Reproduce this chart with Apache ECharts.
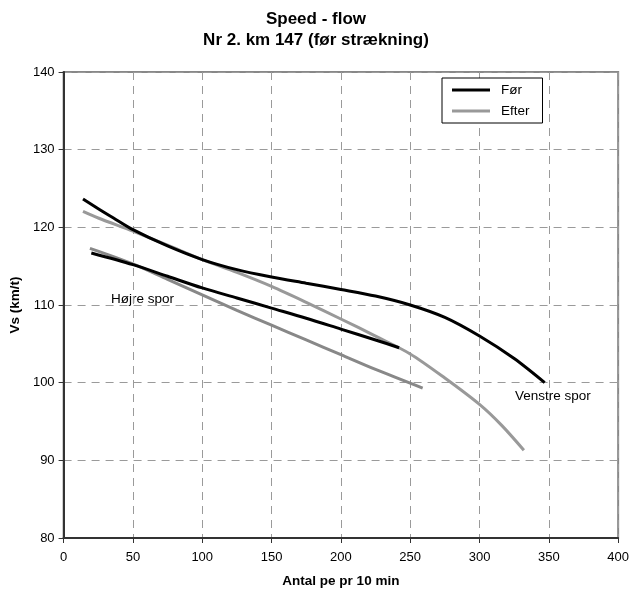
<!DOCTYPE html>
<html><head><meta charset="utf-8">
<script src="https://cdn.jsdelivr.net/npm/echarts@6/dist/echarts.min.js"></script>
<style>html,body{margin:0;padding:0;background:#fff}#c{width:632px;height:593px}</style>
</head><body><div id="c"></div>
<script>
var xTicks = [0, 50, 100, 150, 200, 250, 300, 350, 400];
var yTicks = [80, 90, 100, 110, 120, 130, 140];
// Venstre spor
var venstreForX = [14, 25, 36, 50, 75, 100, 125, 150, 175, 200, 225, 250, 275, 300, 325, 347];
var venstreForY = [123.65, 122.4, 121.2, 119.7, 117.6, 115.85, 114.55, 113.6, 112.8, 112.0, 111.15, 110.0, 108.4, 106.0, 103.1, 100.0];
var venstreEfterX = [14, 25, 50, 75, 100, 125, 150, 175, 200, 225, 250, 275, 300, 316, 332];
var venstreEfterY = [122.06, 121.2, 119.5, 117.7, 115.85, 114.2, 112.4, 110.35, 108.2, 106.0, 103.7, 100.6, 97.2, 94.5, 91.3];
// Højre spor
var hojreForX = [20, 50, 75, 100, 125, 150, 175, 200, 225, 242];
var hojreForY = [116.7, 115.2, 113.7, 112.2, 110.9, 109.6, 108.3, 106.9, 105.5, 104.5];
var hojreEfterX = [19, 50, 75, 100, 125, 150, 175, 200, 225, 259];
var hojreEfterY = [117.3, 115.3, 113.3, 111.3, 109.3, 107.4, 105.5, 103.6, 101.7, 99.3];

function pairs(xs, ys) { return xs.map(function (x, i) { return [x, ys[i]]; }); }

var FONT = '"Liberation Sans", Arial, sans-serif';
var chart = echarts.init(document.getElementById('c'), null, {renderer: 'canvas'});
var dashed = {show: true, lineStyle: {color: '#9a9a9a', type: [8, 6], width: 1}};
function lineSeries(name, xs, ys, color, z) {
  return {name: name, type: 'line', smooth: 0.3, symbol: 'none',
    data: pairs(xs, ys), lineStyle: {color: color, width: 3}, itemStyle: {color: color}, z: z};
}
chart.setOption({
  animation: false,
  backgroundColor: '#fff',
  title: {
    text: 'Speed - flow\nNr 2. km 147 (før strækning)',
    left: 'center', top: 9, padding: 0,
    textStyle: {fontFamily: FONT, fontSize: 17, fontWeight: 'bold', color: '#000', lineHeight: 21}
  },
  legend: {
    orient: 'vertical', left: 442, top: 78,
    data: [{name: 'Før', itemStyle: {color: '#000'}}, {name: 'Efter', itemStyle: {color: '#999'}}],
    itemWidth: 38, itemHeight: 3, itemGap: 5,
    padding: [4, 13, 4, 10],
    borderColor: '#000', borderWidth: 1, backgroundColor: '#fff',
    textStyle: {fontFamily: FONT, fontSize: 13.5, color: '#000', lineHeight: 16, padding: [0, 0, 0, 6]},
    icon: 'rect'
  },
  grid: {left: 63, right: 12, top: 72, bottom: 54, show: true, borderColor: '#888', borderWidth: 2},
  xAxis: {
    type: 'value', min: 0, max: 400, interval: 50,
    name: 'Antal pe pr 10 min', nameLocation: 'middle', nameGap: 36,
    nameTextStyle: {fontFamily: FONT, fontSize: 13.5, fontWeight: 'bold', color: '#000'},
    axisLine: {show: true, lineStyle: {color: '#333', width: 2}},
    axisTick: {show: true, length: 5, lineStyle: {color: '#333'}},
    axisLabel: {fontFamily: FONT, fontSize: 13, color: '#000', margin: 13},
    splitLine: dashed
  },
  yAxis: {
    type: 'value', min: 80, max: 140, interval: 10,
    name: 'Vs (km/t)', nameLocation: 'middle', nameGap: 38, nameRotate: 90,
    nameTextStyle: {fontFamily: FONT, fontSize: 13.5, fontWeight: 'bold', color: '#000'},
    axisLine: {show: true, lineStyle: {color: '#333', width: 2}},
    axisTick: {show: true, length: 5, lineStyle: {color: '#333'}},
    axisLabel: {fontFamily: FONT, fontSize: 13, color: '#000', margin: 9},
    splitLine: dashed
  },
  series: [
    lineSeries('Før', venstreForX, venstreForY, '#000', 3),
    lineSeries('Efter', venstreEfterX, venstreEfterY, '#999', 2),
    lineSeries('Før', hojreForX, hojreForY, '#000', 3),
    lineSeries('Efter', hojreEfterX, hojreEfterY, '#888', 2)
  ],
  graphic: [
    {type: 'text', left: 111, top: 292, style: {text: 'Højre spor', font: '13.5px ' + FONT, fill: '#000'}},
    {type: 'text', left: 515, top: 389, style: {text: 'Venstre spor', font: '13.5px ' + FONT, fill: '#000'}}
  ]
});
</script></body></html>
